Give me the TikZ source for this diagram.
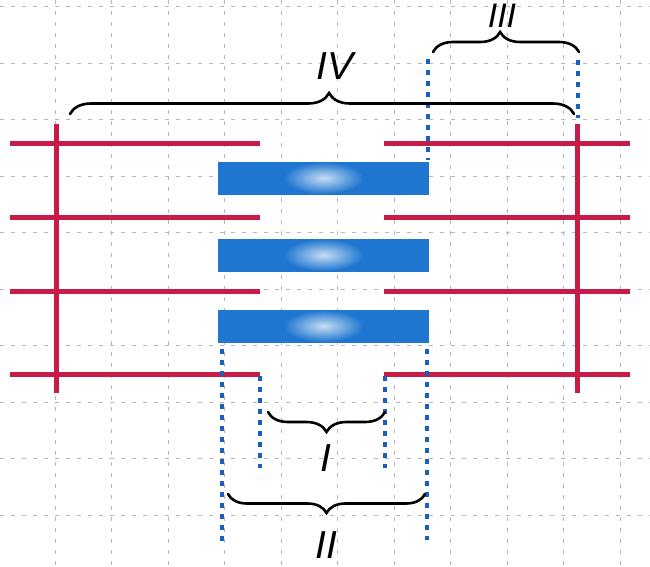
\documentclass[tikz,border=0pt]{standalone}
\usepackage{fontspec}
\setmainfont{Liberation Sans}
\usetikzlibrary{decorations.pathreplacing}
\definecolor{zRed}{RGB}{200,28,72}
\definecolor{barBlue}{RGB}{30,118,208}
\definecolor{dotBlue}{RGB}{25,95,195}
\definecolor{gridGray}{RGB}{178,184,190}

\begin{document}
\begin{tikzpicture}
[x=1pt,y=-1pt,
  gridDecorate/.style={gridGray,line width=0.8pt,dash pattern=on 4pt off 7pt},%
  lineDecorate/.style={zRed,line width=5pt},
  barDecorate/.style={shape=rectangle,fill=barBlue,inner sep=0pt,minimum width=211pt,minimum height=33pt},
  dotDecorate/.style={dotBlue,line width=4.8pt,dash pattern=on 5pt off 6pt},
  braceDecorate/.style={decorate,line width=2.6pt,line cap=round},
  labelDecorate/.style={font=\fontsize{39}{39}\selectfont\itshape,inner sep=0pt}]
\useasboundingbox (0,0) rectangle (650,566);
%% grid of the paper
\foreach \k in {0,...,10}
  \draw[gridDecorate] ({55+56.5*\k},0) -- ({55+56.5*\k},566);
\foreach \k in {-1,...,9}
  \draw[gridDecorate] (0,{63+56.5*\k}) -- (650,{63+56.5*\k});
%% thin filaments
\foreach \rowname/\y in {a/143,b/217,c/291,d/374}
{
  \coordinate (\rowname1) at (10,\y);
  \coordinate (\rowname2) at (260,\y);
  \coordinate (\rowname3) at (384,\y);
  \coordinate (\rowname4) at (630,\y);
  \draw[lineDecorate] (\rowname1) -- (\rowname2) (\rowname3) -- (\rowname4);
}
%% Z lines
\coordinate (zl1) at (56,124);
\coordinate (zl2) at (56,393);
\coordinate (zr1) at (577,124);
\coordinate (zr2) at (577,393);
\draw[lineDecorate] (zl1) -- (zl2) (zr1) -- (zr2);
%% thick filaments
\foreach \nodename/\y in {bar1/178,bar2/255,bar3/326}
{
  \node (\nodename) at (323.5,\y) [barDecorate] {};
  \shade[inner color=white!75!barBlue,outer color=barBlue]
    (\nodename.center) ellipse [x radius=40,y radius=16];
}
%% dotted guides
\foreach \dotname/\x/\ya/\yb in {
  d1/428/59/160,
  d2/578/60/118,
  d3/222/349/541,
  d4/427/349/540,
  d5/260/376/468,
  d6/385/376/468}
{
  \coordinate (\dotname a) at (\x,\ya);
  \coordinate (\dotname b) at (\x,\yb);
  \draw[dotDecorate] (\dotname a) -- (\dotname b);
}
%% braces
\coordinate (iv1) at (70,114);
\coordinate (iv2) at (574,114);
\coordinate (iii1) at (433,52);
\coordinate (iii2) at (579,52);
\coordinate (i1) at (385,412);
\coordinate (i2) at (268,412);
\coordinate (ii1) at (425,494);
\coordinate (ii2) at (228,494);
\draw[braceDecorate,decoration={brace,amplitude=21pt,aspect=0.514}] (iv1) -- (iv2);
\draw[braceDecorate,decoration={brace,amplitude=20pt,aspect=0.46}] (iii1) -- (iii2);
\draw[braceDecorate,decoration={brace,amplitude=20pt}] (i1) -- (i2);
\draw[braceDecorate,decoration={brace,amplitude=19pt}] (ii1) -- (ii2);
%% labels
\node (labIV) at (335,66) [labelDecorate] {IV};
\node (labIII) at (502,16) [labelDecorate,font=\fontsize{34}{34}\selectfont\itshape] {III};
\node (labI) at (326,458) [labelDecorate] {I};
\node (labII) at (326,545) [labelDecorate] {II};
\end{tikzpicture}
\end{document}
